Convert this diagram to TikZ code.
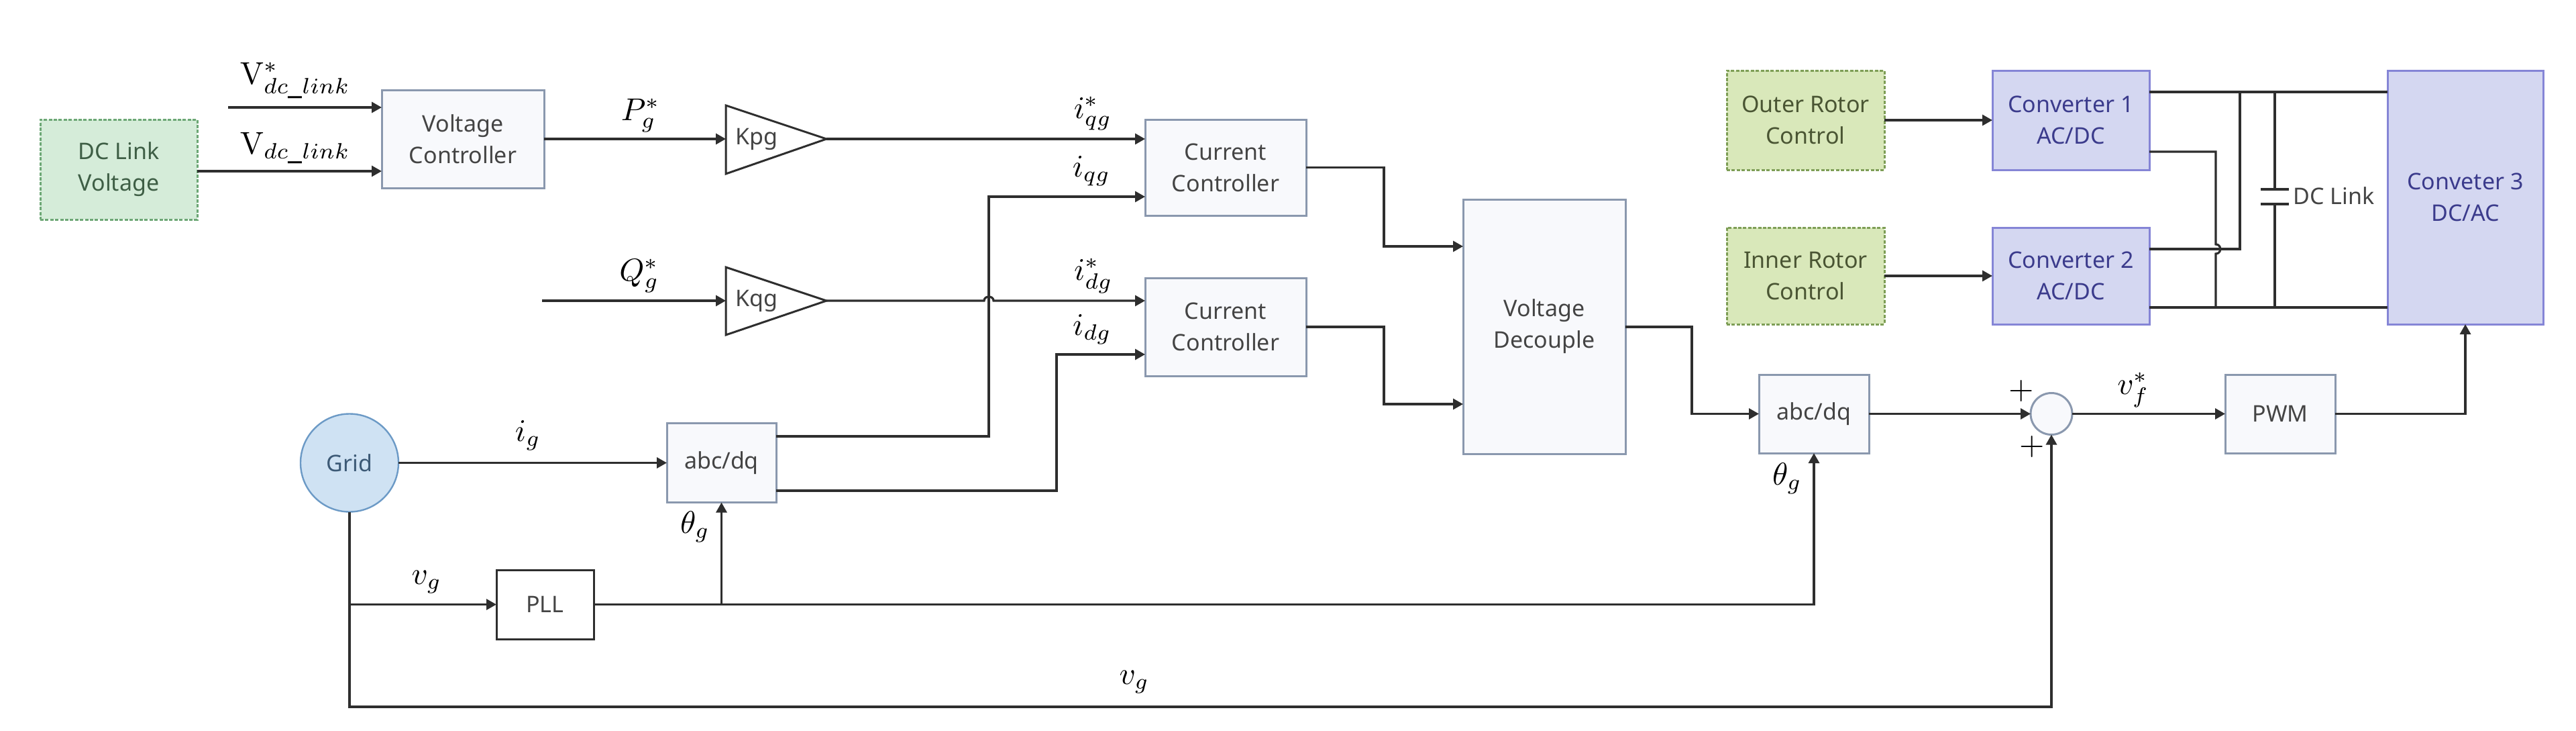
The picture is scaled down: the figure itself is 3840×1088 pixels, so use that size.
\documentclass[tikz,border=0pt]{standalone}
\usepackage{graphicx}
\usepackage[no-math]{fontspec}
\setmainfont{Noto Sans}
\usetikzlibrary{arrows.meta,calc}
\definecolor{lineC}{HTML}{2E2E2E}
\definecolor{boxF}{HTML}{F8F9FC}
\definecolor{boxD}{HTML}{8A98AE}
\definecolor{txtC}{HTML}{444444}
\definecolor{convF}{HTML}{D4D7F1}
\definecolor{convD}{HTML}{8585D6}
\definecolor{convT}{HTML}{3B3B8C}
\definecolor{rotF}{HTML}{D9E8BA}
\definecolor{rotD}{HTML}{7E9E56}
\definecolor{rotT}{HTML}{4A5533}
\definecolor{dcF}{HTML}{D5ECD9}
\definecolor{dcD}{HTML}{6CA775}
\definecolor{dcT}{HTML}{3E5E45}
\definecolor{gridF}{HTML}{CFE2F3}
\definecolor{gridD}{HTML}{6C9AC6}
\definecolor{gridT}{HTML}{3D5A76}
\newcommand{\mlab}[1]{\scalebox{2.35}{$#1$}}
\newcommand{\plussign}{\scalebox{2.4}{\fontfamily{cmr}\fontseries{b}\selectfont +}}
\begin{document}
\begin{tikzpicture}[
  x=0.5pt, y=-0.5pt,
  box/.style={draw=boxD, fill=boxF, line width=1.5pt, inner sep=0pt, outer sep=0pt,
    align=center, text=txtC, font=\fontsize{17}{23.5}\selectfont},
  convbox/.style={box, draw=convD, fill=convF, text=convT},
  rotbox/.style={box, draw=rotD, fill=rotF, text=rotT, dash pattern=on 2.5pt off 1.2pt},
  dcbox/.style={box, draw=dcD, fill=dcF, text=dcT, dash pattern=on 2.5pt off 1.2pt},
  gridbox/.style={box, circle, draw=gridD, fill=gridF, text=gridT, line width=1.2pt},
  pllbox/.style={box, draw=lineC, fill=white},
  gainshape/.style={draw=lineC, fill=white, line width=1.5pt, line join=miter},
  wire/.style={draw=lineC, line width=1.6pt},
  arr/.style={wire, -{Triangle[length=7.5pt,width=8pt]}},
  mlbl/.style={inner sep=0pt, font=\normalsize},
  txtlbl/.style={inner sep=0pt, text=txtC, font=\fontsize{17}{23.5}\selectfont},
]
\useasboundingbox (0,0) rectangle (3840,1088);

% ---- nodes ----
\node[dcbox, minimum width=117pt, minimum height=74.5pt] (dcv) at (177,252.5) {DC Link\\Voltage};
\node[box, minimum width=121pt, minimum height=73pt] (vc) at (690,207) {Voltage\\Controller};
\node[box, minimum width=120pt, minimum height=71.5pt] (cc1) at (1827,249.5) {Current\\Controller};
\node[box, minimum width=120pt, minimum height=73pt] (cc2) at (1827,487) {Current\\Controller};
\node[box, minimum width=121pt, minimum height=189.5pt] (vd) at (2302,486.5) {Voltage\\Decouple};
\node[box, minimum width=81.5pt, minimum height=59pt] (abc1) at (1075.5,689.5) {abc/dq};
\node[box, minimum width=82pt, minimum height=58.5pt] (abc2) at (2704,616.5) {abc/dq};
\node[box, minimum width=82pt, minimum height=58.5pt] (pwm) at (3399,616.5) {PWM};
\node[pllbox, minimum width=72.5pt, minimum height=51.5pt] (pll) at (812.5,900.5) {PLL};
\node[box, circle, minimum size=31pt] (sum) at (3058,616.5) {};
\node[gridbox, minimum size=73pt] (grid) at (521,689.5) {Grid};
\node[rotbox, minimum width=117.5pt, minimum height=74pt] (outer) at (2691.5,179) {Outer Rotor\\Control};
\node[rotbox, minimum width=117.5pt, minimum height=72pt] (inner) at (2691.5,411) {Inner Rotor\\Control};
\node[convbox, minimum width=117pt, minimum height=74pt] (conv1) at (3087,179) {Converter 1\\AC/DC};
\node[convbox, minimum width=117pt, minimum height=72pt] (conv2) at (3087,411) {Converter 2\\AC/DC};
\node[convbox, minimum width=116pt, minimum height=189pt] (conv3) at (3675,294) {Conveter 3\\DC/AC};

% gains
\coordinate (kpgL) at (1082,207);
\coordinate (kpgR) at (1232,207);
\draw[gainshape] (1082,157) -- (kpgR) -- (1082,259) -- cycle;
\node[txtlbl] (kpgT) at (1128,207) {Kpg};
\coordinate (kqgL) at (1082,448);
\coordinate (kqgR) at (1232,448);
\draw[gainshape] (1082,398) -- (kqgR) -- (1082,499) -- cycle;
\node[txtlbl] (kqgT) at (1128,448) {Kqg};

% ---- connectors ----
\coordinate (vref) at (340,160);
\draw[arr] (vref) -- (vref -| vc.west);
\draw[arr] (dcv.east |- 0,255) -- (vc.west |- 0,255);
\draw[arr] (vc.east) -- (kpgL);
\draw[arr] (kpgR) -- (cc1.west |- kpgR);
\coordinate (qref) at (808,448);
\draw[arr] (qref) -- (kqgL);
\draw[arr] (kqgR) -- (1467,448) .. controls (1467,440) and (1481,440) .. (1481,448) -- (cc2.west |- kqgR);

\draw[arr] (abc1.east |- 0,650) -- (1474,650) -- (1474,293) -- (cc1.west |- 0,293);
\draw[arr] (abc1.east |- 0,731) -- (1575,731) -- (1575,528) -- (cc2.west |- 0,528);

\draw[arr] (cc1.east) -- (2063,249.5) -- (2063,367) -- (vd.west |- 0,367);
\draw[arr] (cc2.east) -- (2063,487) -- (2063,602) -- (vd.west |- 0,602);
\draw[arr] (vd.east |- 0,487) -- (2522,487) -- (2522,616.5) -- (abc2.west);
\draw[arr] (abc2.east) -- (sum.west);
\draw[arr] (sum.east) -- (pwm.west);
\draw[arr] (pwm.east) -| (conv3.south);

\draw[arr] (grid.east) -- (abc1.west);
\draw[arr] (grid.south) |- (sum.south |- 0,1053) -- (sum.south);
\draw[arr] (grid.south |- pll.west) -- (pll.west);
\draw[arr] (pll.east) -| (abc2.south);
\draw[arr] (abc1.south |- pll.east) -- (abc1.south);

\draw[arr] (outer.east) -- (conv1.west);
\draw[arr] (inner.east) -- (conv2.west);

% DC buses
\draw[wire] (conv1.east |- 0,137) -- (conv3.west |- 0,137);
\draw[wire] (conv1.east |- 0,226) -- (3303,226) -- (3303,364) .. controls (3312,364) and (3312,378) .. (3303,378) -- (3303,458);
\draw[wire] (conv2.east |- 0,371) -- (3339,371) -- (3339,137);
\draw[wire] (conv2.east |- 0,458) -- (conv3.west |- 0,458);
\coordinate (capT) at (3391,282);
\coordinate (capB) at (3391,304);
\draw[wire] (3391,137) -- (capT);
\draw[wire] (capB) -- (3391,458);
\draw[draw=lineC, line width=2.2pt] ($(capT)+(-21,0)$) -- ($(capT)+(21,0)$);
\draw[draw=lineC, line width=2.2pt] ($(capB)+(-21,0)$) -- ($(capB)+(21,0)$);
\node[txtlbl, anchor=west] (dclink) at (3418,292) {DC Link};

% ---- labels ----
\node[mlbl] (lvref) at (440,120) {\mlab{\mathrm{V}^{*}_{dc\_link}}};
\node[mlbl] (lvdc) at (440,221) {\mlab{\mathrm{V}_{dc\_link}}};
\node[mlbl] (lpg) at (955,172) {\mlab{P^{*}_{g}}};
\node[mlbl] (lqg) at (953,411) {\mlab{Q^{*}_{g}}};
\node[mlbl] (liqgr) at (1629,169) {\mlab{i^{*}_{qg}}};
\node[mlbl] (liqg) at (1627,255) {\mlab{i_{qg}}};
\node[mlbl] (lidgr) at (1630,411) {\mlab{i^{*}_{dg}}};
\node[mlbl] (lidg) at (1628,491) {\mlab{i_{dg}}};
\node[mlbl] (lig) at (787,649) {\mlab{i_{g}}};
\node[mlbl] (lth1) at (1036,785) {\mlab{\theta_{g}}};
\node[mlbl] (lvg1) at (636,867) {\mlab{v_{g}}};
\node[mlbl] (lth2) at (2664,713) {\mlab{\theta_{g}}};
\node[mlbl] (lvg2) at (1691,1016) {\mlab{v_{g}}};
\node[mlbl] (lvf) at (3180,581) {\mlab{v^{*}_{f}}};
\node[mlbl] (plus1) at (3013,582) {\plussign};
\node[mlbl] (plus2) at (3029,665) {\plussign};
\end{tikzpicture}
\end{document}
